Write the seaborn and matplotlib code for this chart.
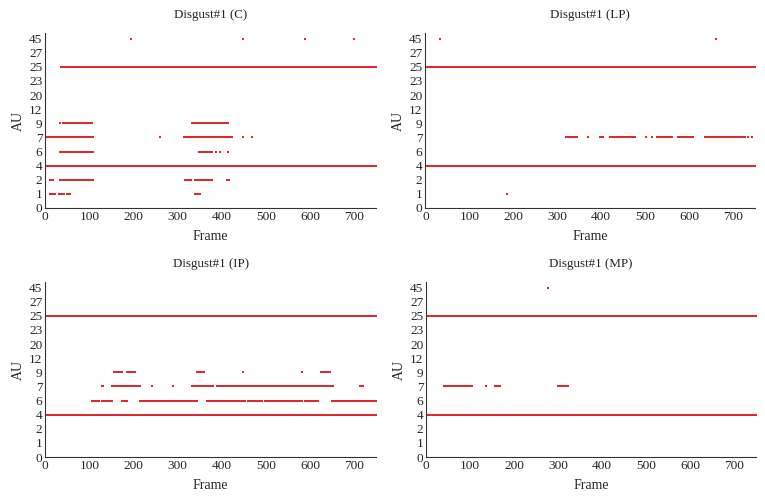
import numpy as np
import pandas as pd
import matplotlib
matplotlib.use("Agg")
import matplotlib.pyplot as plt
import seaborn as sns

# AU rows shown on the y axis (bottom to top)
au_levels = [0, 1, 2, 4, 6, 7, 9, 12, 20, 23, 25, 27, 45]
frame_ticks = [0, 100, 200, 300, 400, 500, 600, 700]
n_frames = 750

# detected frames per AU, as (first frame, last frame) runs
c_runs = {
    45: [(195, 195), (447, 447), (588, 588), (699, 699)],
    25: [(36, 750)],
    9: [(34, 34), (41, 106), (332, 413)],
    7: [(0, 109), (261, 261), (315, 424), (449, 449), (468, 468)],
    6: [(34, 108), (348, 377), (386, 386), (396, 396), (415, 415)],
    4: [(0, 750)],
    2: [(10, 17), (34, 108), (317, 330), (339, 378), (411, 417)],
    1: [(10, 23), (32, 42), (50, 57), (339, 351)],
}
lp_runs = {
    45: [(33, 33), (661, 661)],
    25: [(0, 750)],
    7: [(319, 344), (369, 369), (397, 404), (420, 477), (503, 503), (515, 515),
        (527, 560), (575, 608), (636, 673), (677, 726), (733, 733), (744, 744)],
    4: [(0, 750)],
    1: [(185, 185)],
}
ip_runs = {
    25: [(0, 750)],
    9: [(156, 174), (186, 204), (343, 360), (449, 449), (581, 581), (624, 645)],
    7: [(128, 130), (151, 215), (243, 243), (290, 290), (332, 381), (389, 652),
        (713, 720)],
    6: [(106, 108), (114, 121), (128, 151), (174, 186), (215, 343), (366, 453),
        (459, 490), (498, 581), (588, 618), (649, 750)],
    4: [(0, 750)],
}
mp_runs = {
    45: [(278, 278)],
    25: [(0, 750)],
    7: [(41, 58), (61, 78), (80, 94), (98, 104), (137, 137), (157, 168), (300, 323)],
    4: [(0, 750)],
}

panels = [
    ("Disgust#1 (C)", c_runs),
    ("Disgust#1 (LP)", lp_runs),
    ("Disgust#1 (IP)", ip_runs),
    ("Disgust#1 (MP)", mp_runs),
]


def to_frame_table(runs):
    rows = []
    for au, spans in runs.items():
        for a, b in spans:
            for f in range(a, min(b, n_frames) + 1):
                rows.append((f, au_levels.index(au)))
    return pd.DataFrame(rows, columns=["Frame", "AU"])


sns.set_style("white")
plt.rcParams["font.family"] = ["Liberation Serif", "DejaVu Serif"]

fig = plt.figure(figsize=(7.65, 5.0), dpi=100)
positions = [
    [0.059, 0.584, 0.433, 0.350],
    [0.556, 0.584, 0.431, 0.350],
    [0.059, 0.086, 0.433, 0.350],
    [0.557, 0.086, 0.431, 0.350],
]

for (title, runs), pos in zip(panels, positions):
    ax = fig.add_axes(pos)
    df = to_frame_table(runs)
    sns.scatterplot(data=df, x="Frame", y="AU", ax=ax, color="#dd2a2e",
                    marker="s", s=1.5, linewidth=0, legend=False)
    ax.set_xlim(0, n_frames)
    ax.set_ylim(0, len(au_levels) - 1 + 0.4)
    ax.set_xticks(frame_ticks)
    ax.set_yticks(range(len(au_levels)))
    ax.set_yticklabels([str(a) for a in au_levels])
    ax.tick_params(direction="in", length=3, width=0.8, labelsize=9.6,
                   color="#222222", pad=2)
    for side in ["top", "right"]:
        ax.spines[side].set_visible(False)
    for side in ["left", "bottom"]:
        ax.spines[side].set_color("#333333")
        ax.spines[side].set_linewidth(0.8)
    ax.set_title(title, fontsize=9.4, pad=11)
    ax.set_xlabel("Frame", fontsize=10, labelpad=5)
    ax.set_ylabel("AU", fontsize=10, labelpad=3)

fig.savefig("out.png", dpi=100)
